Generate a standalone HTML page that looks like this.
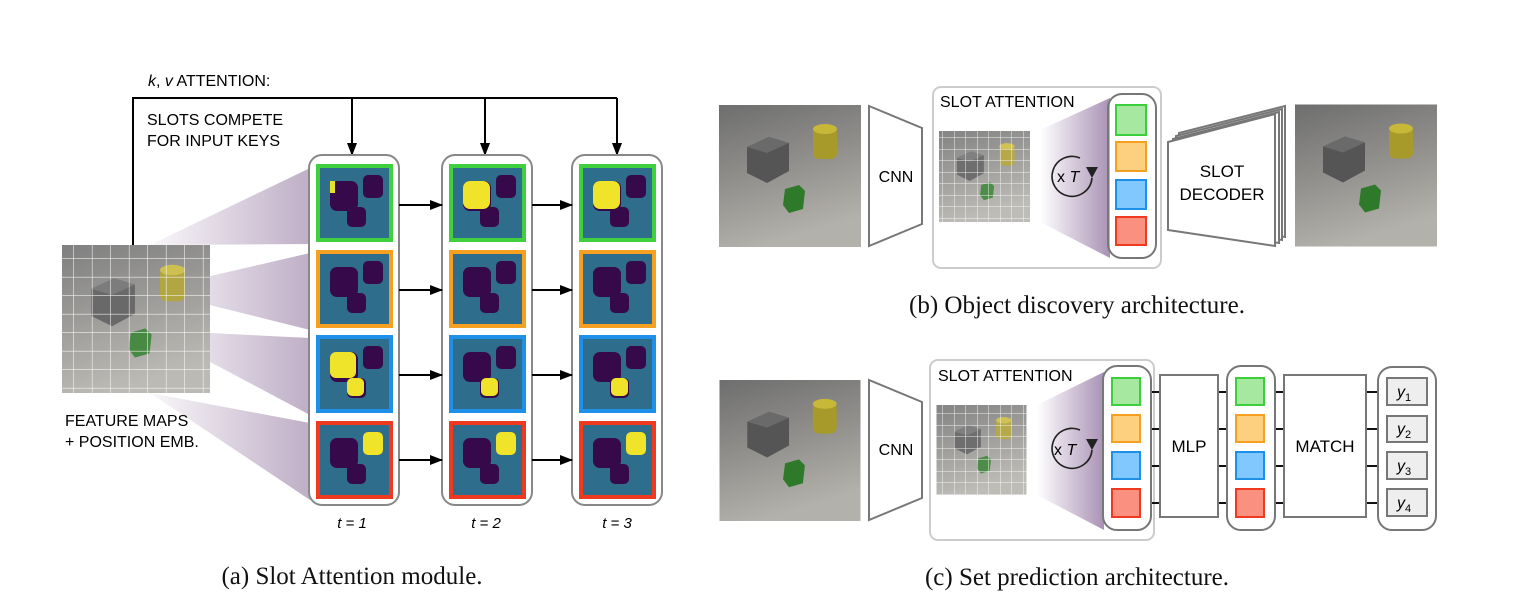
<!DOCTYPE html>
<html><head><meta charset="utf-8"><style>
html,body{margin:0;padding:0;background:#fff}
svg{display:block}
text{font-family:"Liberation Sans",sans-serif}
.cap{font-family:"Liberation Serif",serif;font-size:25px;fill:#111}
</style></head><body>
<svg width="1526" height="614" viewBox="0 0 1526 614" xmlns="http://www.w3.org/2000/svg">
<defs>
<linearGradient id="bg" x1="0" y1="0" x2="0.3" y2="1">
<stop offset="0" stop-color="#6e6e6e"/><stop offset="0.5" stop-color="#8f8e8b"/><stop offset="1" stop-color="#b3b1ab"/></linearGradient>
<symbol id="scene" viewBox="0 0 142 142">
<rect width="142" height="142" fill="url(#bg)"/>
<polygon points="28,42 50,32 70,38 70,66 48,78 28,68" fill="#555"/>
<polygon points="28,42 50,32 70,38 48,48" fill="#6a6a6a"/>
<rect x="94" y="22" width="24" height="32" rx="6" fill="#a89a2a"/>
<ellipse cx="106" cy="24" rx="12" ry="5" fill="#c8b838"/>
<polygon points="66,84 80,80 86,86 84,104 70,108 64,100" fill="#2f7a2a"/>
</symbol>
<pattern id="grid" width="18.5" height="18.5" patternUnits="userSpaceOnUse">
<path d="M18.5 0V18.5H0" fill="none" stroke="#fff" stroke-width="1.2" opacity="0.85"/></pattern>
<pattern id="grid2" width="11.5" height="11.5" patternUnits="userSpaceOnUse">
<path d="M11.5 0V11.5H0" fill="none" stroke="#fff" stroke-width="1" opacity="0.85"/></pattern>
<linearGradient id="fan" x1="0" y1="0" x2="1" y2="0">
<stop offset="0" stop-color="#9a7fa8" stop-opacity="0"/><stop offset="1" stop-color="#9a7fa8" stop-opacity="0.85"/></linearGradient>
<linearGradient id="fanA" x1="0" y1="0" x2="1" y2="0">
<stop offset="0" stop-color="#8a6c98" stop-opacity="0.05"/><stop offset="1" stop-color="#8a6c98" stop-opacity="0.55"/></linearGradient>
<symbol id="blobs" viewBox="0 0 76 76">
<rect x="13" y="16" width="28" height="30" rx="7" fill="#360a4a"/>
<rect x="46" y="10" width="20" height="23" rx="5" fill="#360a4a"/>
<rect x="30" y="42" width="19" height="20" rx="5" fill="#360a4a"/>
</symbol>
<marker id="ah" markerWidth="13" markerHeight="10" refX="12" refY="5" orient="auto" markerUnits="userSpaceOnUse">
<path d="M0,0L13,5L0,10z" fill="#000"/></marker>
</defs>

<!-- (a) -->
<text x="148" y="86" font-size="16"><tspan font-style="italic">k</tspan>, <tspan font-style="italic">v</tspan> ATTENTION:</text>
<text x="147" y="125" font-size="16">SLOTS COMPETE</text>
<text x="147" y="146" font-size="16">FOR INPUT KEYS</text>
<path d="M133 245V98H617" fill="none" stroke="#000" stroke-width="2"/>
<line x1="352" y1="98" x2="352" y2="155" stroke="#000" stroke-width="2" marker-end="url(#ah)"/>
<line x1="485" y1="98" x2="485" y2="155" stroke="#000" stroke-width="2" marker-end="url(#ah)"/>
<line x1="617" y1="98" x2="617" y2="155" stroke="#000" stroke-width="2" marker-end="url(#ah)"/>

<polygon points="150,245 310,168 310,244" fill="url(#fanA)"/>
<polygon points="150,290 310,253 310,330" fill="url(#fanA)"/>
<polygon points="150,330 310,338 310,415" fill="url(#fanA)"/>
<polygon points="150,393 310,423 310,500" fill="url(#fanA)"/>

<use href="#scene" x="62" y="245" width="148" height="148"/>
<rect x="62" y="245" width="148" height="148" fill="url(#grid)"/>
<rect x="62" y="245" width="148" height="148" fill="#fff" opacity="0.12"/>
<text x="65" y="426" font-size="16">FEATURE MAPS</text>
<text x="65" y="447" font-size="16">+ POSITION EMB.</text>

<rect x="309" y="155" width="90" height="350" rx="13" fill="#fff" stroke="#888" stroke-width="2"/>
<rect x="442" y="155" width="90" height="350" rx="13" fill="#fff" stroke="#888" stroke-width="2"/>
<rect x="572" y="155" width="90" height="350" rx="13" fill="#fff" stroke="#888" stroke-width="2"/>
<g stroke-width="4">
<rect x="318" y="166" width="73" height="74" fill="#2f6d8c" stroke="#3fcf3f"/>
<use href="#blobs" x="317" y="165" width="76" height="76"/>
<rect x="330" y="181" width="5" height="12" fill="#e6e02a" stroke="none"/>
<rect x="318" y="252" width="73" height="74" fill="#2f6d8c" stroke="#f5a020"/>
<use href="#blobs" x="317" y="251" width="76" height="76"/>
<rect x="318" y="337" width="73" height="74" fill="#2f6d8c" stroke="#1e90e8"/>
<use href="#blobs" x="317" y="336" width="76" height="76"/>
<rect x="330" y="352" width="26" height="26" rx="6" fill="#f0e42a" stroke="none"/>
<rect x="347" y="378" width="17" height="18" rx="5" fill="#f0e42a" stroke="none"/>
<rect x="318" y="423" width="73" height="74" fill="#2f6d8c" stroke="#f03a20"/>
<use href="#blobs" x="317" y="422" width="76" height="76"/>
<rect x="363" y="432" width="20" height="23" rx="5" fill="#f0e42a" stroke="none"/>

<rect x="451" y="166" width="73" height="74" fill="#2f6d8c" stroke="#3fcf3f"/>
<use href="#blobs" x="450" y="165" width="76" height="76"/>
<rect x="463" y="181" width="27" height="28" rx="7" fill="#f0e42a" stroke="none"/>
<rect x="451" y="252" width="73" height="74" fill="#2f6d8c" stroke="#f5a020"/>
<use href="#blobs" x="450" y="251" width="76" height="76"/>
<rect x="451" y="337" width="73" height="74" fill="#2f6d8c" stroke="#1e90e8"/>
<use href="#blobs" x="450" y="336" width="76" height="76"/>
<rect x="481" y="378" width="17" height="18" rx="5" fill="#f0e42a" stroke="none"/>
<rect x="451" y="423" width="73" height="74" fill="#2f6d8c" stroke="#f03a20"/>
<use href="#blobs" x="450" y="422" width="76" height="76"/>
<rect x="496" y="432" width="20" height="23" rx="5" fill="#f0e42a" stroke="none"/>

<rect x="581" y="166" width="73" height="74" fill="#2f6d8c" stroke="#3fcf3f"/>
<use href="#blobs" x="580" y="165" width="76" height="76"/>
<rect x="593" y="181" width="27" height="28" rx="7" fill="#f0e42a" stroke="none"/>
<rect x="581" y="252" width="73" height="74" fill="#2f6d8c" stroke="#f5a020"/>
<use href="#blobs" x="580" y="251" width="76" height="76"/>
<rect x="581" y="337" width="73" height="74" fill="#2f6d8c" stroke="#1e90e8"/>
<use href="#blobs" x="580" y="336" width="76" height="76"/>
<rect x="611" y="378" width="17" height="18" rx="5" fill="#f0e42a" stroke="none"/>
<rect x="581" y="423" width="73" height="74" fill="#2f6d8c" stroke="#f03a20"/>
<use href="#blobs" x="580" y="422" width="76" height="76"/>
<rect x="626" y="432" width="20" height="23" rx="5" fill="#f0e42a" stroke="none"/>
</g>
<g stroke="#000" stroke-width="2">
<line x1="399" y1="205" x2="442" y2="205" marker-end="url(#ah)"/>
<line x1="399" y1="290" x2="442" y2="290" marker-end="url(#ah)"/>
<line x1="399" y1="375" x2="442" y2="375" marker-end="url(#ah)"/>
<line x1="399" y1="460" x2="442" y2="460" marker-end="url(#ah)"/>
<line x1="532" y1="205" x2="572" y2="205" marker-end="url(#ah)"/>
<line x1="532" y1="290" x2="572" y2="290" marker-end="url(#ah)"/>
<line x1="532" y1="375" x2="572" y2="375" marker-end="url(#ah)"/>
<line x1="532" y1="460" x2="572" y2="460" marker-end="url(#ah)"/>
</g>
<text x="352" y="528" font-size="15" text-anchor="middle" font-style="italic">t = 1</text>
<text x="486" y="528" font-size="15" text-anchor="middle" font-style="italic">t = 2</text>
<text x="617" y="528" font-size="15" text-anchor="middle" font-style="italic">t = 3</text>
<text x="352" y="584" class="cap" text-anchor="middle">(a) Slot Attention module.</text>

<!-- (b) -->
<use href="#scene" x="719" y="105" width="142" height="142"/>
<polygon points="869,106 922,128 922,224 869,246" fill="#fff" stroke="#777" stroke-width="2"/>
<text x="896" y="182" font-size="16" text-anchor="middle">CNN</text>
<rect x="933" y="87" width="228" height="181" rx="8" fill="#fff" stroke="#ccc" stroke-width="2"/>
<text x="940" y="107" font-size="16">SLOT ATTENTION</text>
<use href="#scene" x="939" y="131" width="91" height="91"/>
<rect x="939" y="131" width="91" height="91" fill="#fff" opacity="0.15"/>
<rect x="939" y="131" width="91" height="91" fill="url(#grid2)"/>
<polygon points="1040,130 1110,98 1110,258 1040,222" fill="url(#fan)"/>
<path d="M1080 158 A20 20 0 1 0 1092 178" fill="none" stroke="#222" stroke-width="1.6"/>
<path d="M1086 167 L1092 178 L1098 167 z" fill="#222" stroke="none"/>
<text x="1057" y="182" font-size="16">x<tspan font-style="italic"> T</tspan></text>
<rect x="1108" y="94" width="48" height="164" rx="14" fill="#fff" fill-opacity="0.3" stroke="#777" stroke-width="2"/>
<g stroke-width="2">
<rect x="1116" y="105" width="30" height="30" fill="#a6e8a0" stroke="#3ccf3c"/>
<rect x="1116" y="142" width="30" height="29" fill="#fdd080" stroke="#f5a020"/>
<rect x="1116" y="180" width="30" height="29" fill="#80c8ff" stroke="#1e90e8"/>
<rect x="1116" y="217" width="30" height="28" fill="#fa9080" stroke="#f03a20"/>
</g>
<g fill="#fff" stroke="#777" stroke-width="2">
<polygon points="1179,133 1285,106 1285,237 1179,221"/>
<polygon points="1176,136 1282,109 1282,240 1176,224"/>
<polygon points="1173,139 1279,112 1279,243 1173,227"/>
<polygon points="1168,142 1275,114 1275,246 1168,230"/>
</g>
<text x="1222" y="177" font-size="17" text-anchor="middle">SLOT</text>
<text x="1222" y="200" font-size="17" text-anchor="middle">DECODER</text>
<use href="#scene" x="1295" y="104" width="142" height="143"/>
<text x="1077" y="313" class="cap" text-anchor="middle">(b) Object discovery architecture.</text>

<!-- (c) -->
<use href="#scene" x="719" y="380" width="142" height="141"/>
<polygon points="869,380 922,402 922,498 869,520" fill="#fff" stroke="#777" stroke-width="2"/>
<text x="896" y="455" font-size="16" text-anchor="middle">CNN</text>
<rect x="930" y="360" width="224" height="180" rx="8" fill="#fff" stroke="#ccc" stroke-width="2"/>
<text x="938" y="381" font-size="16">SLOT ATTENTION</text>
<use href="#scene" x="936" y="405" width="91" height="90"/>
<rect x="936" y="405" width="91" height="90" fill="#fff" opacity="0.15"/>
<rect x="936" y="405" width="91" height="90" fill="url(#grid2)"/>
<polygon points="1037,405 1104,372 1104,530 1037,495" fill="url(#fan)"/>
<path d="M1080 430 A20 20 0 1 0 1092 450" fill="none" stroke="#222" stroke-width="1.6"/>
<path d="M1086 439 L1092 450 L1098 439 z" fill="#222"/>
<text x="1054" y="455" font-size="16">x<tspan font-style="italic"> T</tspan></text>
<g stroke="#111" stroke-width="2">
<line x1="1150" y1="392" x2="1160" y2="392"/><line x1="1150" y1="429" x2="1160" y2="429"/><line x1="1150" y1="466" x2="1160" y2="466"/><line x1="1150" y1="503" x2="1160" y2="503"/>
<line x1="1218" y1="392" x2="1229" y2="392"/><line x1="1218" y1="429" x2="1229" y2="429"/><line x1="1218" y1="466" x2="1229" y2="466"/><line x1="1218" y1="503" x2="1229" y2="503"/>
<line x1="1274" y1="392" x2="1284" y2="392"/><line x1="1274" y1="429" x2="1284" y2="429"/><line x1="1274" y1="466" x2="1284" y2="466"/><line x1="1274" y1="503" x2="1284" y2="503"/>
<line x1="1366" y1="392" x2="1377" y2="392"/><line x1="1366" y1="429" x2="1377" y2="429"/><line x1="1366" y1="466" x2="1377" y2="466"/><line x1="1366" y1="503" x2="1377" y2="503"/>
</g>
<rect x="1103" y="366" width="48" height="164" rx="14" fill="#fff" fill-opacity="0.3" stroke="#777" stroke-width="2"/>
<rect x="1227" y="366" width="48" height="164" rx="14" fill="#fff" stroke="#777" stroke-width="2"/>
<g stroke-width="2">
<rect x="1112" y="378" width="28" height="27" fill="#a6e8a0" stroke="#3ccf3c"/>
<rect x="1112" y="415" width="28" height="27" fill="#fdd080" stroke="#f5a020"/>
<rect x="1112" y="452" width="28" height="27" fill="#80c8ff" stroke="#1e90e8"/>
<rect x="1112" y="489" width="28" height="28" fill="#fa9080" stroke="#f03a20"/>
<rect x="1236" y="378" width="28" height="27" fill="#a6e8a0" stroke="#3ccf3c"/>
<rect x="1236" y="415" width="28" height="27" fill="#fdd080" stroke="#f5a020"/>
<rect x="1236" y="452" width="28" height="27" fill="#80c8ff" stroke="#1e90e8"/>
<rect x="1236" y="489" width="28" height="28" fill="#fa9080" stroke="#f03a20"/>
</g>
<rect x="1160" y="375" width="58" height="142" fill="#fff" stroke="#777" stroke-width="2"/>
<text x="1189" y="452" font-size="17" text-anchor="middle">MLP</text>
<rect x="1284" y="375" width="82" height="142" fill="#fff" stroke="#777" stroke-width="2"/>
<text x="1325" y="452" font-size="17" text-anchor="middle">MATCH</text>
<rect x="1378" y="367" width="58" height="163" rx="14" fill="#fff" stroke="#777" stroke-width="2"/>
<g fill="#eee" stroke="#777" stroke-width="2">
<rect x="1387" y="378" width="40" height="27"/>
<rect x="1387" y="416" width="40" height="26"/>
<rect x="1387" y="452" width="40" height="27"/>
<rect x="1387" y="489" width="40" height="27"/>
</g>
<g font-size="16" font-style="italic">
<text x="1397" y="397">y<tspan font-size="11" font-style="normal" dy="4">1</tspan></text>
<text x="1397" y="434">y<tspan font-size="11" font-style="normal" dy="4">2</tspan></text>
<text x="1397" y="471">y<tspan font-size="11" font-style="normal" dy="4">3</tspan></text>
<text x="1397" y="508">y<tspan font-size="11" font-style="normal" dy="4">4</tspan></text>
</g>
<text x="1077" y="585" class="cap" text-anchor="middle">(c) Set prediction architecture.</text>
</svg>
</body></html>
